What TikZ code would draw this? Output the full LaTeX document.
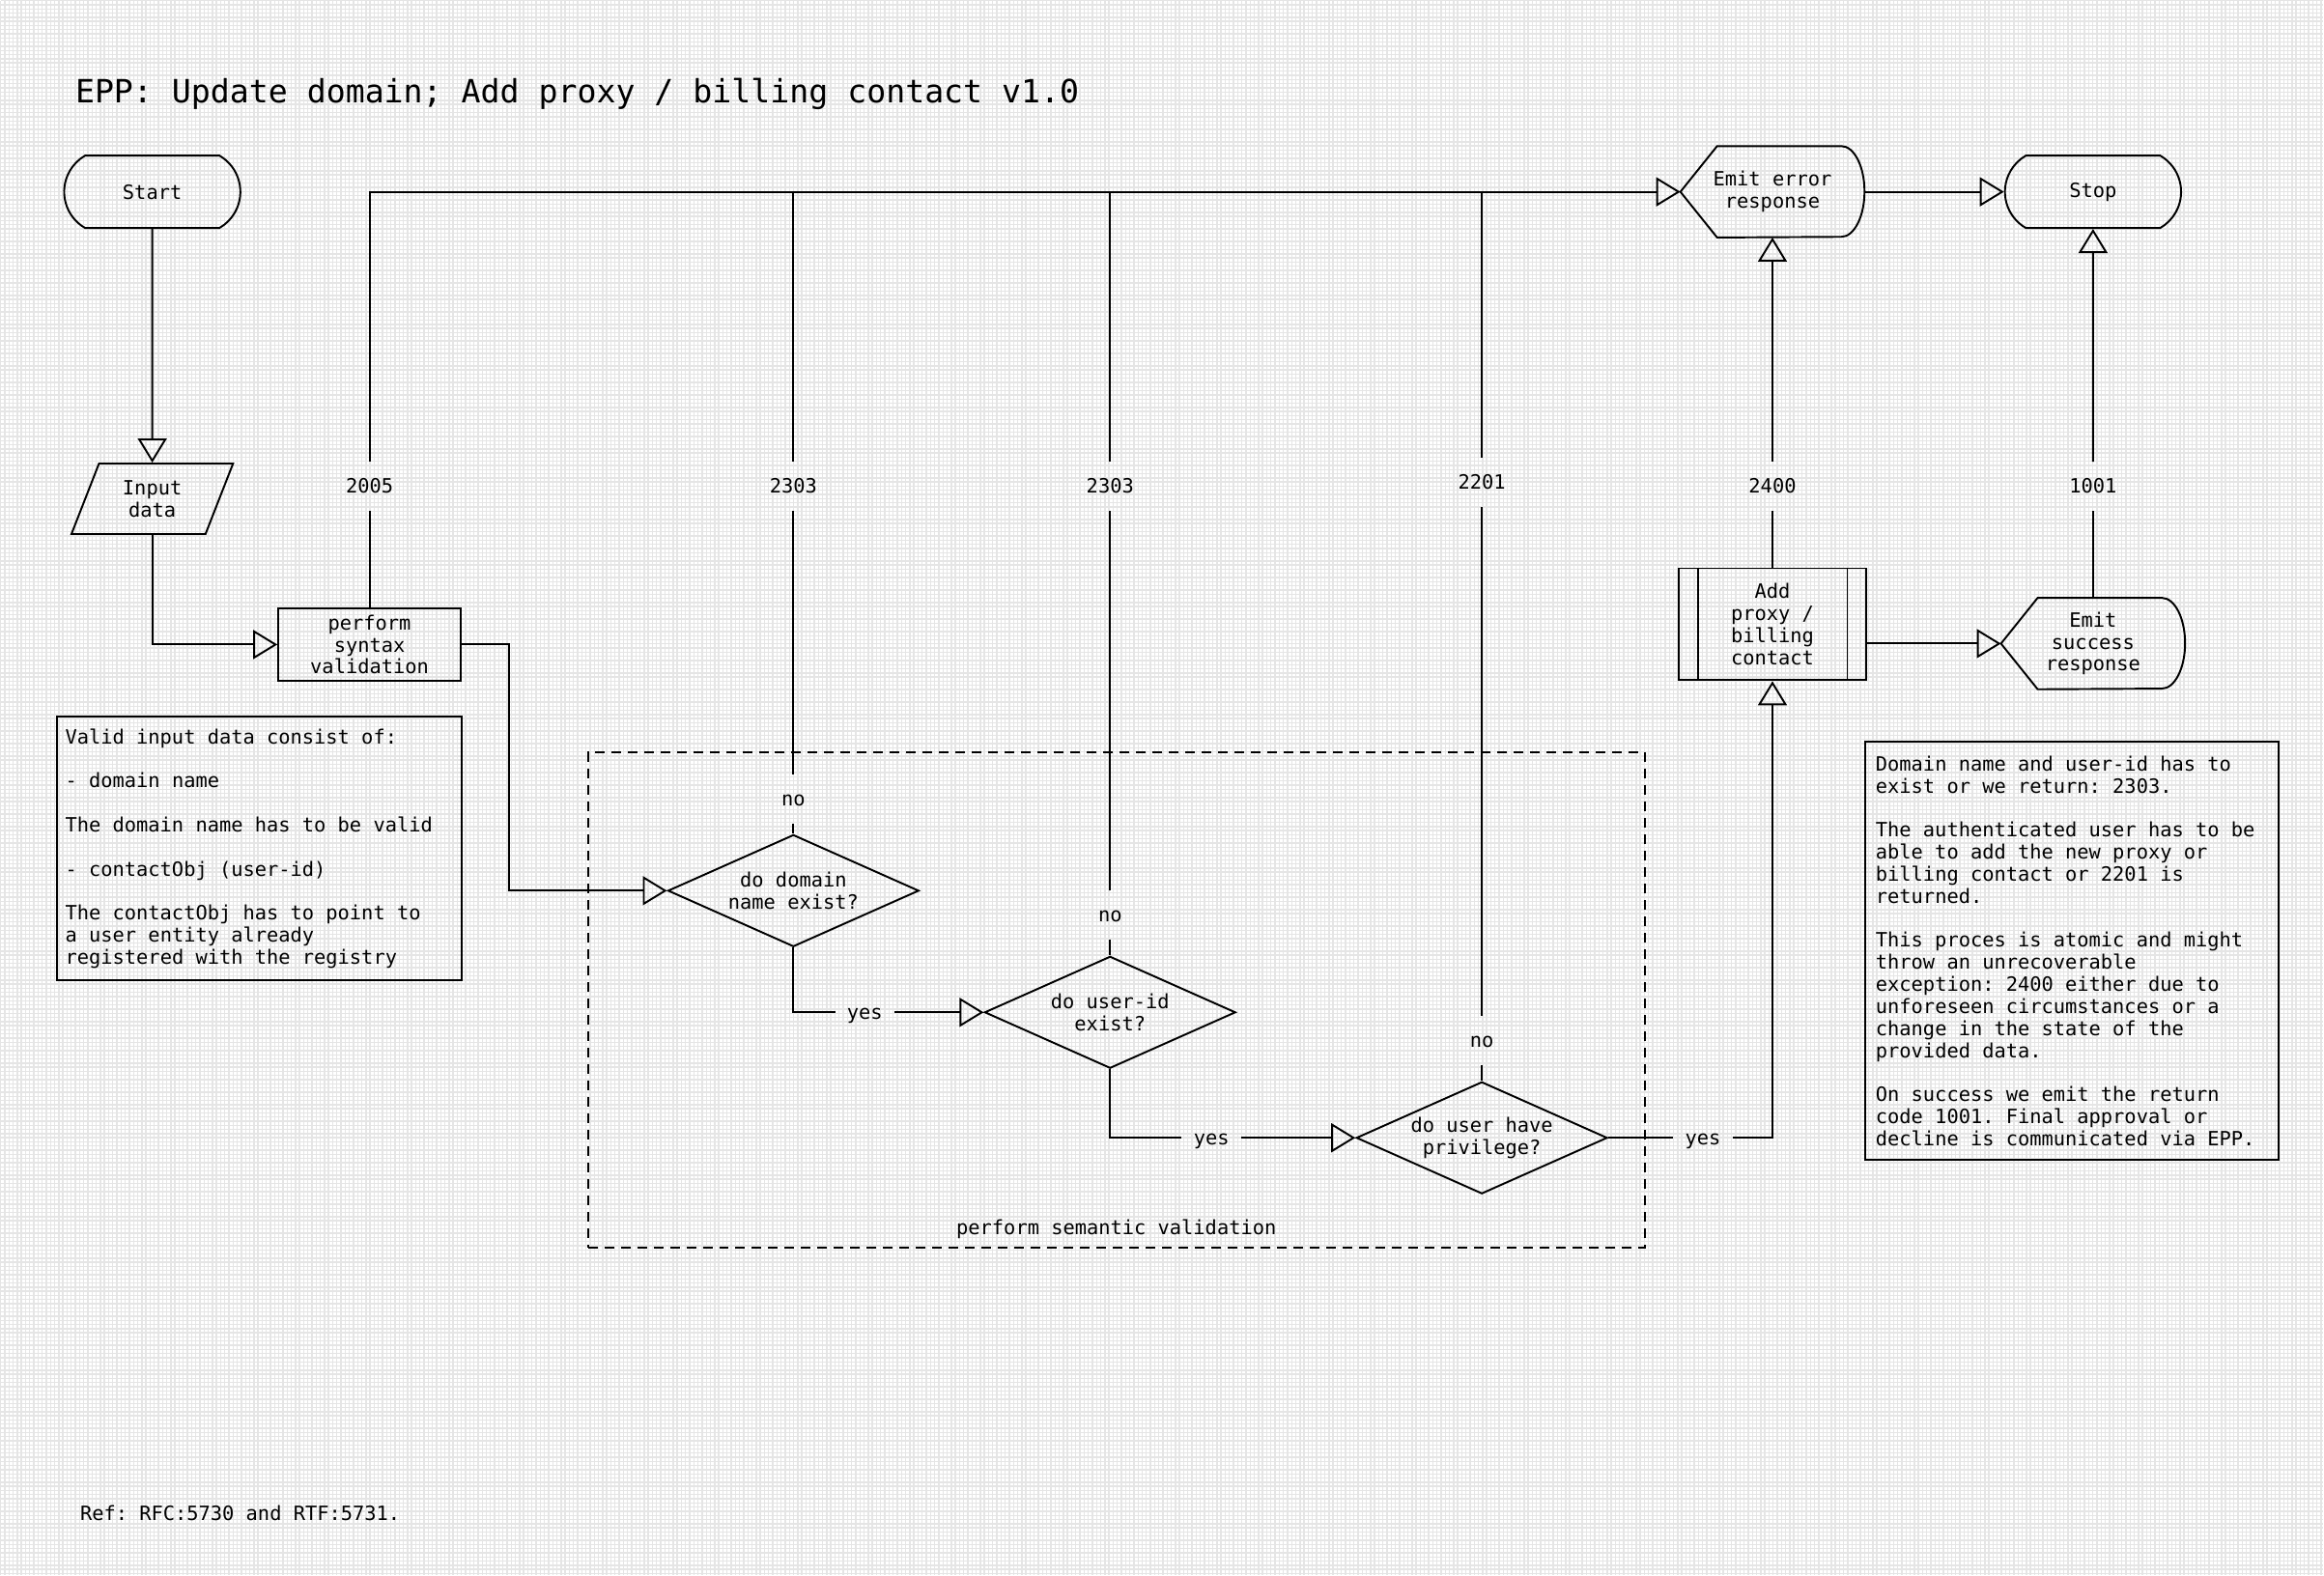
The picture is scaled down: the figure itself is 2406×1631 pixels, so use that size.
\documentclass[tikz,border=0pt]{standalone}
\usepackage{fontspec}
\setmainfont{DejaVu Sans Mono}
\frenchspacing
\usetikzlibrary{arrows.meta,shapes.geometric,shapes.misc}

% outline of a "display" node: pointed on the left, rounded on the right
\newcommand\emitoutline[1]{%
  \draw[outline] (#1.west) -- ([xshift=0.76cm]#1.north west)
    -- ([xshift=-0.48cm]#1.north east)
    arc[start angle=90,end angle=-90,x radius=0.48cm,y radius=0.94cm]
    -- ([xshift=0.76cm]#1.south west) -- cycle;}
% keep the spaces of the mono font inside ragged text
\newcommand\monospaces{\spaceskip=0.602em\xspaceskip=0.602em\relax}

\begin{document}
\begin{tikzpicture}[x=0.02cm,y=-0.02cm,
    every node/.style={font=\fontsize{11.6}{13}\selectfont,inner sep=1pt},
    outline/.style={draw,line width=1.1pt},
    flow/.style={line width=1.1pt},
    arrow/.style={flow,-{Triangle[open,length=0.5cm,width=0.6cm]}},
    terminal/.style={outline,rounded rectangle,rounded rectangle arc length=120,
                     minimum width=3.72cm,minimum height=1.5cm},
    process/.style={outline,align=center,minimum width=3.78cm,minimum height=1.5cm},
    subproc/.style={process,minimum width=3.9cm,minimum height=2.32cm,
      path picture={\draw[line width=1.1pt]
        ([xshift=0.4cm]path picture bounding box.north west) -- ([xshift=0.4cm]path picture bounding box.south west)
        ([xshift=-0.4cm]path picture bounding box.north east) -- ([xshift=-0.4cm]path picture bounding box.south east);}},
    emit/.style={align=center,minimum width=3.8cm,minimum height=1.88cm},
    decision/.style={outline,diamond,aspect=2.24,minimum width=5.2cm,minimum height=2.32cm,
                     inner sep=0pt,align=center},
    code/.style={inner xsep=0.24cm,inner ysep=0.36cm,text height=0.28cm,text depth=0pt},
    note/.style={outline,anchor=north west,align=left},
    group/.style={draw,line width=1.1pt,dash pattern=on 0.2cm off 0.14cm},
    titletext/.style={font=\fontsize{18.9}{22}\selectfont,anchor=west,inner sep=0pt}]

  % background
  \fill[white] (0,0) rectangle (2406,1631);
  \draw[black!10,line width=0.028cm,step=0.086cm] (0cm,0cm) grid (48.12cm,-32.62cm);
  \useasboundingbox (0,0) rectangle (2406,1631);

  \node[titletext] (title) at (77,97) {EPP: Update domain; Add proxy / billing contact v1.0};
  \node[anchor=west,inner sep=0pt] (ref) at (82,1567) {Ref: RFC:5730 and RTF:5731.};

  % main flow
  \node[terminal] (start) at (157,198) {Start};
  \node[outline,trapezium,trapezium left angle=68,trapezium right angle=112,trapezium stretches=true,
        minimum width=3.36cm,minimum height=1.46cm,align=center] (input) at (157,516) {Input\\data};
  \node[process] (syntax) at (382,667) {perform\\syntax\\validation};

  \node[group,minimum width=21.9cm,minimum height=10.26cm] (semantic) at (1155.5,1035.5) {};
  \node (semlabel) at ([yshift=0.4cm]semantic.south) {perform semantic validation};

  \node[decision] (dA) at (821,922) {do domain\\name exist?};
  \node[decision] (dB) at (1149,1048) {do user-id\\exist?};
  \node[decision] (dC) at (1534,1178) {do user have\\privilege?};

  \node[subproc] (add) at (1835,646) {Add\\proxy /\\billing\\contact};
  \node[emit] (err) at (1835,198) {Emit error\\response};
  \emitoutline{err}
  \node[emit] (success) at (2167,666) {Emit\\success\\response};
  \emitoutline{success}
  \node[terminal] (stop) at (2167,198) {Stop};

  % labels on the connectors
  \node[code] (c2005) at (382,503) {2005};
  \node[code] (c2303a) at (821,503) {2303};
  \node[code] (c2303b) at (1149,503) {2303};
  \node[code] (c2201) at (1534,499) {2201};
  \node[code] (c2400) at (1835,503) {2400};
  \node[code] (c1001) at (2167,503) {1001};
  \node[code] (noA) at (821,827) {no};
  \node[code] (noB) at (1149,947) {no};
  \node[code] (noC) at (1534,1077) {no};
  \node[code] (yesA) at (895,1048) {yes};
  \node[code] (yesB) at (1254,1178) {yes};
  \node[code] (yesC) at (1763,1178) {yes};

  % notes
  \node[note,inner xsep=0.18cm,text width=8.04cm,minimum width=8.4cm,minimum height=5.46cm] (inputnote) at (57,741)
    {\monospaces Valid input data consist of:\\[13pt]
     - domain name\\[13pt]
     The domain name has to be valid\\[13pt]
     - contactObj (user-id)\\[13pt]
     The contactObj has to point to\\
     a user entity already\\
     registered with the registry};
  \node[note,inner xsep=0.22cm,text width=8.12cm,minimum width=8.56cm,minimum height=8.66cm] (resultnote) at (1930,767)
    {\monospaces Domain name and user-id has to\\
     exist or we return: 2303.\\[13pt]
     The authenticated user has to be\\
     able to add the new proxy or\\
     billing contact or 2201 is\\
     returned.\\[13pt]
     This proces is atomic and might\\
     throw an unrecoverable\\
     exception: 2400 either due to\\
     unforeseen circumstances or a\\
     change in the state of the\\
     provided data.\\[13pt]
     On success we emit the return\\
     code 1001. Final approval or\\
     decline is communicated via EPP.};

  % connectors
  \draw[arrow] (start) -- (input);
  \draw[arrow] (input) |- (syntax);
  \draw[arrow] (syntax.east) -- ++(49,0) |- (dA);
  \draw[flow] (syntax) -- (c2005);
  \draw[arrow] (c2005) |- (err);
  \foreach \d/\c in {A/c2303a,B/c2303b,C/c2201} {
    \draw[flow] (d\d) -- (no\d);
    \draw[flow] (no\d) -- (\c);
    \draw[flow] (\c) -- (\c |- err);
  }
  \draw[flow] (dA) |- (yesA);
  \draw[arrow] (yesA) -- (dB);
  \draw[flow] (dB) |- (yesB);
  \draw[arrow] (yesB) -- (dC);
  \draw[flow] (dC) -- (yesC);
  \draw[arrow] (yesC) -| (add);
  \draw[flow] (add) -- (c2400);
  \draw[arrow] (c2400) -- (err);
  \draw[arrow] (add.east |- success.west) -- (success.west);
  \draw[flow] (success) -- (c1001);
  \draw[arrow] (c1001) -- (stop);
  \draw[arrow] (err) -- (stop);
\end{tikzpicture}
\end{document}
